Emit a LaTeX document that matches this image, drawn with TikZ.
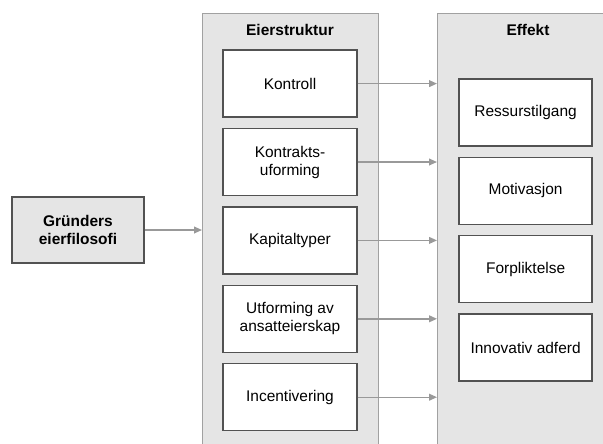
\documentclass[tikz,border=0pt]{standalone}
\usepackage{fontspec}
\setmainfont{Liberation Sans}
\usepackage{tikz}
\usetikzlibrary{arrows.meta,chains,positioning}
\colorlet{lcpanel}{gray!20}
\colorlet{lcedge}{black!37}
\colorlet{lcbox}{black!68}
\colorlet{lcarrow}{black!40}

\begin{document}
\begin{tikzpicture}[%
    >={Triangle[length=2mm,width=1.7mm]}, % Arrow tips of the connectors
    node distance=19.6mm,                 % Global setup of box spacing
    line width=1pt,
    every node/.style={font=\fontsize{11}{12.8}\selectfont}]
% -------------------------------------------------
% Box styles
\tikzset{
  box/.style={draw=lcbox, align=center,
    minimum width=33.5mm, minimum height=16.75mm},
  proc/.style={box, on grid, on chain, rectangle, fill=white},
  term/.style={box, fill=lcpanel, font=\fontsize{11}{12.8}\selectfont\bfseries},
  panel/.style={draw=lcedge, fill=lcpanel, anchor=north west,
    minimum width=44mm, minimum height=115mm},
  title/.style={font=\fontsize{11}{12.8}\selectfont\bfseries},
  % -------------------------------------------------
  % Connector line style
  norm/.style={->, draw=lcarrow}
}
% -------------------------------------------------
% Fix the page, then the two grey panels
\path[use as bounding box] (0,0) rectangle (150.75mm,-110.75mm);
\clip (0,0) rectangle (150.75mm,-110.75mm);
\node [panel] (eier) at (50.5mm,-3.25mm) {};
\node [panel, minimum width=48mm] (eff) at (109.25mm,-3.25mm) {};
\node [title] (teier) at (72.5mm,-7.5mm) {Eierstruktur};
\node [title] (teff) at (132mm,-7.5mm) {Effekt};

% -------------------------------------------------
% Left column of the ownership structure
\begin{scope}[on grid, start chain=eierchain going below]
\node [proc] (k1) at (72.5mm,-20.9mm) {Kontroll};
\node [proc] (k2) {Kontrakts-\\uforming};
\node [proc] (k3) {Kapitaltyper};
\node [proc] (k4) {Utforming av\\ansatteierskap};
\node [proc] (k5) {Incentivering};
\end{scope}

% Right column with the effects
\begin{scope}[on grid, start chain=effchain going below]
\node [proc, minimum width=33.25mm] (e1) at (131.4mm,-28.1mm) {Ressurstilgang};
\node [proc, minimum width=33.25mm] (e2) {Motivasjon};
\node [proc, minimum width=33.25mm] (e3) {Forpliktelse};
\node [proc, minimum width=33.25mm] (e4) {Innovativ adferd};
\end{scope}

% The founder box on the left
\node [term, minimum width=33mm, minimum height=16.5mm] (gr)
  at (19.5mm,-57.5mm) {Gründers\\eierfilosofi};

% -------------------------------------------------
% Connectors: founder to panel, boxes to the effect panel
\draw [norm] (gr.east) -- (gr.east -| eier.west);
\foreach \k in {k1,k2,k3,k4,k5}
  \draw [norm] (\k.east) -- (\k.east -| eff.west);
% -------------------------------------------------
\end{tikzpicture}
\end{document}
